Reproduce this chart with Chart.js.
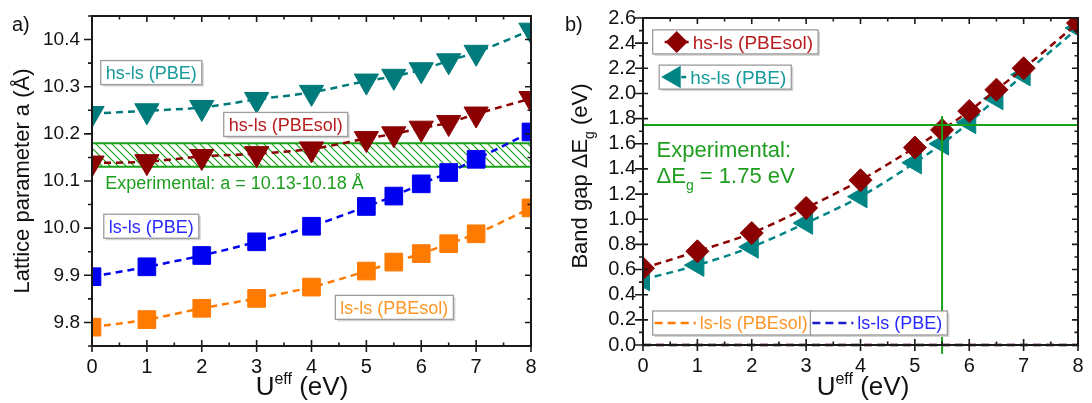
<!DOCTYPE html>
<html>
<head>
<meta charset="utf-8">
<script src="https://cdn.jsdelivr.net/npm/chart.js@4"></script>
<style>
  html, body { margin: 0; padding: 0; background: #fff; }
  #wrap { position: relative; width: 1092px; height: 403px; overflow: hidden; }
  canvas { position: absolute; top: 0; }
  #latticeChart { left: 0; }
  #gapChart { left: 546px; }
</style>
</head>
<body>
<div id="wrap">
  <canvas id="latticeChart" width="546" height="403"></canvas>
  <canvas id="gapChart" width="546" height="403"></canvas>
</div>
<script>
// U_eff values (eV), shared by both panels
const uValues = [0, 1, 2, 3, 4, 5, 5.5, 6, 6.5, 7, 8];
const uTicks = [0, 1, 2, 3, 4, 5, 6, 7, 8];
const latticeTicks = [9.8, 9.9, 10.0, 10.1, 10.2, 10.3, 10.4];
const gapTicks = [0, 0.2, 0.4, 0.6, 0.8, 1.0, 1.2, 1.4, 1.6, 1.8, 2.0, 2.2, 2.4, 2.6];

// a) lattice parameter (Å)
const latHsPbe    = [10.243, 10.249, 10.256, 10.273, 10.288, 10.312, 10.322, 10.336, 10.355, 10.373, 10.420];
const latHsPbesol = [10.138, 10.141, 10.152, 10.158, 10.168, 10.190, 10.200, 10.212, 10.224, 10.242, 10.275];
const latLsPbe    = [9.897, 9.918, 9.942, 9.971, 10.004, 10.046, 10.068, 10.094, 10.118, 10.146, 10.204];
const latLsPbesol = [9.790, 9.806, 9.830, 9.851, 9.875, 9.909, 9.928, 9.946, 9.967, 9.988, 10.043];
const expLattice = [10.13, 10.18];

// b) band gap (eV)
const gapHsPbesol = [0.61, 0.745, 0.89, 1.09, 1.31, 1.57, 1.71, 1.86, 2.03, 2.20, 2.56];
const gapHsPbe    = [0.52, 0.635, 0.78, 0.97, 1.18, 1.45, 1.60, 1.77, 1.96, 2.15, 2.52];
const gapLsPbesol = [0, 0, 0, 0, 0, 0, 0, 0, 0, 0, 0];
const gapLsPbe    = [0, 0, 0, 0, 0, 0, 0, 0, 0, 0, 0];
const expGap = 1.75;
const expU = 5.5;

const FONT = "'Liberation Sans', Arial, Helvetica, sans-serif";
const teal = '#007a7a', tealB = '#008484', tealText = '#169a9a';
const darkRed = '#8b0000', redText = '#b81c1c';
const blue = '#0000f0', blueLine = '#1a1acc', blueText = '#2a2aff';
const orange = '#ff7a00', orangeText = '#ff9628';
const green = '#19a019', greenText = '#1e9e1e';

const pts = (ys) => uValues.map((u, i) => ({ x: u, y: ys[i] }));

function hatch(color) {
  const c = document.createElement('canvas');
  c.width = c.height = 8;
  const g = c.getContext('2d');
  g.strokeStyle = color;
  g.lineWidth = 1.2;
  g.beginPath();
  g.moveTo(-1, -1); g.lineTo(9, 9);
  g.moveTo(-5, 3); g.lineTo(5, 13);
  g.moveTo(3, -5); g.lineTo(13, 5);
  g.stroke();
  return g.createPattern(c, 'repeat');
}

// text with sub/superscripts: parts = [[text, shift]], shift 1 = sup, -1 = sub
function drawRich(ctx, parts, x, y, size, align) {
  const fontFor = s => `${s ? Math.round(size * 0.62) : size}px ${FONT}`;
  const widths = parts.map(([t, s]) => { ctx.font = fontFor(s); return ctx.measureText(t).width; });
  const total = widths.reduce((a, b) => a + b, 0);
  let cx = align === 'center' ? x - total / 2 : x;
  ctx.textAlign = 'left';
  ctx.textBaseline = 'alphabetic';
  parts.forEach(([t, s], i) => {
    ctx.font = fontFor(s);
    const dy = s > 0 ? -size * 0.42 : s < 0 ? size * 0.3 : 0;
    ctx.fillText(t, cx, y + dy);
    cx += widths[i];
  });
  return total;
}

function marker(ctx, style, x, y, r, color) {
  ctx.save();
  ctx.fillStyle = color;
  ctx.setLineDash([]);
  ctx.beginPath();
  if (style === 'diamond') {
    ctx.moveTo(x, y - r); ctx.lineTo(x + r, y); ctx.lineTo(x, y + r); ctx.lineTo(x - r, y);
  } else if (style === 'triLeft') {
    ctx.moveTo(x - r, y); ctx.lineTo(x + r * 0.5, y - r * 0.866); ctx.lineTo(x + r * 0.5, y + r * 0.866);
  }
  ctx.closePath();
  ctx.fill();
  ctx.restore();
}

function labelsPlugin(items) {
  return {
    id: 'labels',
    afterDraw(chart) {
      const { ctx, scales: { x, y } } = chart;
      ctx.save();
      items.forEach(it => {
        const px = x.getPixelForValue(it.x);
        const py = y.getPixelForValue(it.y);
        let textW = 0;
        it.parts.forEach(([t, s]) => {
          ctx.font = `${s ? Math.round(it.size * 0.62) : it.size}px ${FONT}`;
          textW += ctx.measureText(t).width;
        });
        const sw = it.sample ? it.sample.w : 0;
        const contentW = sw + textW;
        const x0 = it.align === 'center' ? px - contentW / 2 : px;
        if (it.box) {
          const h = it.boxH || 24;
          ctx.fillStyle = '#d4d4d4';
          ctx.fillRect(x0 - 5 + 2, py - h / 2 + 2, contentW + 10, h);
          ctx.fillStyle = '#fff';
          ctx.fillRect(x0 - 5, py - h / 2, contentW + 10, h);
          ctx.strokeStyle = '#9c9c9c';
          ctx.lineWidth = 1.3;
          ctx.setLineDash([]);
          ctx.strokeRect(x0 - 5, py - h / 2, contentW + 10, h);
        }
        if (it.sample) {
          const s = it.sample;
          ctx.strokeStyle = s.color;
          ctx.lineWidth = 2.5;
          ctx.setLineDash(s.dash || [7, 5]);
          ctx.beginPath();
          ctx.moveTo(x0 + (s.from || 0), py);
          ctx.lineTo(x0 + s.w - 4, py);
          ctx.stroke();
          ctx.setLineDash([]);
          if (s.style) marker(ctx, s.style, x0 + s.at, py, s.r, s.color);
        }
        ctx.fillStyle = it.color;
        drawRich(ctx, it.parts, x0 + sw, py + it.size * 0.36, it.size, 'left');
      });
      ctx.restore();
    }
  };
}

function framePlugin(cfg) {
  return {
    id: 'frame',
    afterDatasetsDraw(chart) {
      const { ctx, chartArea: a, scales: { x, y } } = chart;
      ctx.save();
      ctx.setLineDash([]);
      ctx.strokeStyle = '#1a1a1a';
      ctx.lineWidth = 1.6;
      ctx.beginPath();
      const seg = (x1, y1, x2, y2) => { ctx.moveTo(x1, y1); ctx.lineTo(x2, y2); };
      const isMajor = (v, step) => Math.abs(v / step - Math.round(v / step)) < 1e-6;
      const nx = Math.round((x.max - x.min) / cfg.xMinor);
      for (let i = 0; i <= nx; i++) {
        const v = x.min + i * cfg.xMinor;
        const px = x.getPixelForValue(v);
        const major = isMajor(v, cfg.xMajor);
        seg(px, a.bottom + (major ? 6 : 0), px, a.bottom - (major ? 6 : 3.5));
        seg(px, a.top, px, a.top + (major ? 6 : 3.5));
      }
      const ny = Math.round((y.max - cfg.yStart) / cfg.yMinor);
      for (let i = 0; i <= ny; i++) {
        const v = cfg.yStart + i * cfg.yMinor;
        const py = y.getPixelForValue(v);
        const major = isMajor(v, cfg.yMajor);
        seg(a.left - (major ? 8 : 4), py, a.left + (major ? cfg.leftIn : 0), py);
        seg(a.right, py, a.right - (major ? 6 : 3.5), py);
      }
      ctx.stroke();
      ctx.lineWidth = 2;
      ctx.strokeRect(a.left, a.top, a.right - a.left, a.bottom - a.top);
      ctx.restore();
    },
    afterDraw(chart) {
      const { ctx } = chart;
      ctx.save();
      ctx.fillStyle = '#111';
      // panel tag
      ctx.font = `20px ${FONT}`;
      ctx.textAlign = 'left';
      ctx.textBaseline = 'alphabetic';
      ctx.fillText(cfg.tag, cfg.tagX, 31);
      // x title
      drawRich(ctx, [['U', 0], ['eff', 1], [' (eV)', 0]], cfg.xTitleX, 395, 26, 'center');
      // y title
      ctx.translate(cfg.yTitleX, cfg.yTitleY);
      ctx.rotate(-Math.PI / 2);
      drawRich(ctx, cfg.yTitle, 0, 0, 22, 'center');
      ctx.restore();
    }
  };
}

function xScale(height) {
  return {
    type: 'linear', min: 0, max: 8,
    afterBuildTicks: s => { s.ticks = uTicks.map(v => ({ value: v })); },
    afterFit: s => { s.height = height; s.paddingLeft = 0; s.paddingRight = 0; },
    ticks: { font: { family: FONT, size: 20 }, color: '#111', padding: 9, maxRotation: 0, autoSkip: false,
             callback: v => String(v) },
    grid: { display: false, drawTicks: false },
    border: { display: false }
  };
}

function yScale(min, max, ticks, width, size, pad) {
  return {
    min: min, max: max,
    afterBuildTicks: s => { s.ticks = ticks.map(v => ({ value: v })); },
    afterFit: s => { s.width = width; s.paddingTop = 0; s.paddingBottom = 0; },
    ticks: { font: { family: FONT, size: size }, color: '#111', padding: pad, autoSkip: false,
             callback: v => v.toFixed(1) },
    grid: { display: false, drawTicks: false },
    border: { display: false }
  };
}

const seriesStyle = (color, style, r, rot) => ({
  borderColor: color, backgroundColor: color,
  pointBackgroundColor: color, pointBorderColor: color, pointBorderWidth: 1,
  pointStyle: style, pointRadius: r, pointRotation: rot,
  borderWidth: 2.5, borderDash: [7, 5],
  cubicInterpolationMode: 'monotone', clip: 0
});

// ---------- a) lattice parameter ----------
new Chart(document.getElementById('latticeChart'), {
  type: 'line',
  data: {
    datasets: [
      { label: 'hs-ls (PBE)', data: pts(latHsPbe), ...seriesStyle(teal, 'triangle', 14, 180) },
      { label: 'hs-ls (PBEsol)', data: pts(latHsPbesol), ...seriesStyle(darkRed, 'triangle', 14, 180) },
      { label: 'ls-ls (PBE)', data: pts(latLsPbe), ...seriesStyle(blue, 'rect', 12.5, 0) },
      { label: 'ls-ls (PBEsol)', data: pts(latLsPbesol), ...seriesStyle(orange, 'rect', 12.5, 0) },
      { label: 'exp upper', data: [{ x: 0, y: expLattice[1] }, { x: 8, y: expLattice[1] }],
        borderColor: green, borderWidth: 2, pointRadius: 0, fill: '+1', backgroundColor: hatch(green) },
      { label: 'exp lower', data: [{ x: 0, y: expLattice[0] }, { x: 8, y: expLattice[0] }],
        borderColor: green, borderWidth: 2, pointRadius: 0, fill: false }
    ]
  },
  options: {
    responsive: false,
    animation: false,
    layout: { padding: { top: 16, right: 7, left: 0, bottom: 0 } },
    plugins: { legend: { display: false }, tooltip: { enabled: false } },
    scales: {
      x: xScale(57),
      y: yScale(9.75, 10.45, latticeTicks, 92, 19, 12)
    }
  },
  plugins: [
    framePlugin({ xMajor: 1, xMinor: 0.5, yStart: 9.75, yMajor: 0.1, yMinor: 0.05, leftIn: 0,
                  tag: 'a)', tagX: 12, xTitleX: 302, yTitleX: 29, yTitleY: 181,
                  yTitle: [['Lattice parameter a (Å)', 0]] }),
    labelsPlugin([
      { x: 1.08, y: 10.33, parts: [['hs-ls (PBE)', 0]], size: 18, color: tealText, align: 'center', box: true },
      { x: 3.53, y: 10.22, parts: [['hs-ls (PBEsol)', 0]], size: 18, color: redText, align: 'center', box: true },
      { x: 0.24, y: 10.096, parts: [['Experimental: a = 10.13-10.18 Å', 0]], size: 18, color: greenText, align: 'left' },
      { x: 1.08, y: 10.004, parts: [['ls-ls (PBE)', 0]], size: 18, color: blueText, align: 'center', box: true },
      { x: 5.51, y: 9.832, parts: [['ls-ls (PBEsol)', 0]], size: 18, color: orangeText, align: 'center', box: true }
    ])
  ]
});

// ---------- b) band gap ----------
new Chart(document.getElementById('gapChart'), {
  type: 'line',
  data: {
    datasets: [
      { label: 'exp gap', data: [{ x: 0, y: expGap }, { x: 8, y: expGap }],
        borderColor: green, borderWidth: 2, pointRadius: 0, clip: 0 },
      { label: 'exp U', data: [{ x: expU, y: -0.07 }, { x: expU, y: 1.82 }],
        borderColor: green, borderWidth: 2, pointRadius: 0, clip: false },
      { label: 'hs-ls (PBEsol)', data: pts(gapHsPbesol), ...seriesStyle(darkRed, 'rectRot', 11.5, 0) },
      { label: 'hs-ls (PBE)', data: pts(gapHsPbe), ...seriesStyle(tealB, 'triangle', 13, 270) },
      { label: 'ls-ls (PBE)', data: pts(gapLsPbe), borderColor: blueLine, borderWidth: 2.5,
        borderDash: [8, 5], pointRadius: 0, clip: false },
      { label: 'ls-ls (PBEsol)', data: pts(gapLsPbesol), borderColor: orange, borderWidth: 2.5,
        borderDash: [8, 5], pointRadius: 0, clip: false }
    ]
  },
  options: {
    responsive: false,
    animation: false,
    layout: { padding: { top: 18, right: 2, left: 0, bottom: 0 } },
    plugins: { legend: { display: false }, tooltip: { enabled: false } },
    scales: {
      x: xScale(58),
      y: yScale(0, 2.6, gapTicks, 97, 20, 7)
    }
  },
  plugins: [
    framePlugin({ xMajor: 1, xMinor: 0.5, yStart: 0, yMajor: 0.2, yMinor: 0.1, leftIn: 5,
                  tag: 'b)', tagX: 19, xTitleX: 317, yTitleX: 41, yTitleY: 176,
                  yTitle: [['Band gap ΔE', 0], ['g', -1], [' (eV)', 0]] }),
    labelsPlugin([
      { x: 0.27, y: 2.41, parts: [['hs-ls (PBEsol)', 0]], size: 19, color: redText, align: 'left', box: true,
        sample: { w: 35, from: 7, at: 19, style: 'diamond', r: 11, color: darkRed, dash: [6, 4] } },
      { x: 0.39, y: 2.13, parts: [['hs-ls (PBE)', 0]], size: 19, color: tealText, align: 'left', box: true,
        sample: { w: 26, from: 17, at: 10, style: 'triLeft', r: 13, color: tealB, dash: [6, 4] } },
      { x: 0.25, y: 1.56, parts: [['Experimental:', 0]], size: 22, color: greenText, align: 'left' },
      { x: 0.25, y: 1.35, parts: [['ΔE', 0], ['g', -1], [' = 1.75 eV', 0]], size: 22, color: greenText, align: 'left' },
      { x: 0.27, y: 0.175, parts: [['ls-ls (PBEsol)', 0]], size: 18, color: orangeText, align: 'left', box: true,
        sample: { w: 42, from: -3, color: orange, dash: [8, 5] } },
      { x: 3.17, y: 0.175, parts: [['ls-ls (PBE)', 0]], size: 18, color: blueText, align: 'left', box: true,
        sample: { w: 42, from: -3, color: blueLine, dash: [8, 5] } }
    ])
  ]
});
</script>
</body>
</html>
